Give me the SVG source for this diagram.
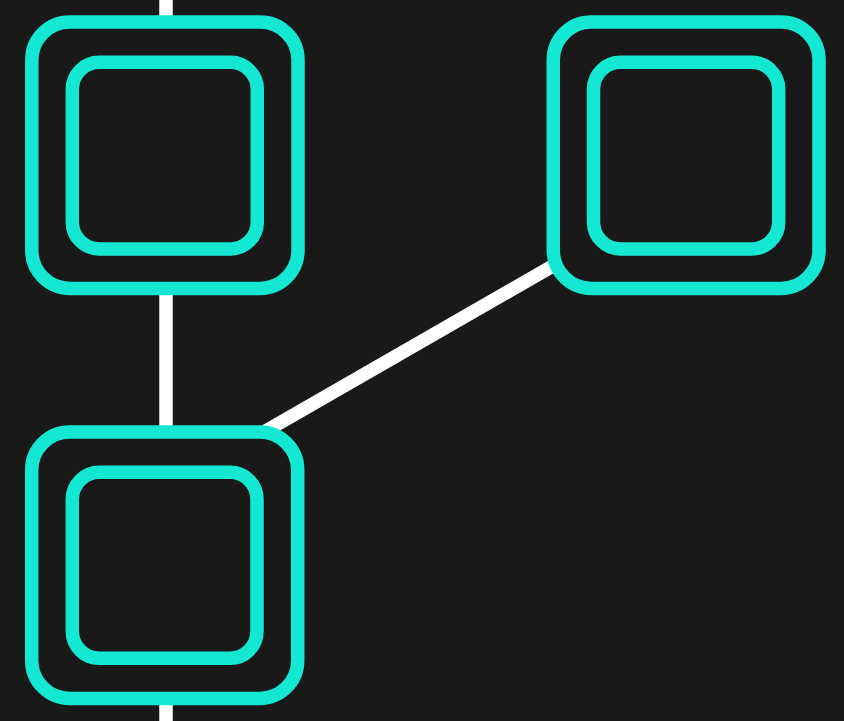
<svg xmlns="http://www.w3.org/2000/svg" width="844" height="721" viewBox="0 0 844 721">
  <style>
    .conn { stroke: #ffffff; stroke-width: 13.5; fill: none; }
    .outer { fill: #191919; stroke: #15E8D2; stroke-width: 13.5; }
    .inner { fill: #191919; stroke: #15E8D2; stroke-width: 13.5; }
  </style>
  <rect x="0" y="0" width="844" height="721" fill="#191919"/>
  <g id="connectors">
    <line class="conn" x1="166" y1="0" x2="166" y2="721"/>
    <line class="conn" x1="200" y1="468.8" x2="620" y2="227.3"/>
  </g>
  <g id="node-top-left">
    <rect class="outer" x="31.8" y="22" width="266.2" height="266.4" rx="38" ry="38"/>
    <rect class="inner" x="72.3" y="62.3" width="185" height="186.7" rx="27" ry="27"/>
  </g>
  <g id="node-top-right">
    <rect class="outer" x="553.3" y="22" width="265.7" height="266.4" rx="38" ry="38"/>
    <rect class="inner" x="593.5" y="62.3" width="185.2" height="186.7" rx="27" ry="27"/>
  </g>
  <g id="node-bottom-left">
    <rect class="outer" x="31.7" y="432" width="266" height="266.4" rx="38" ry="38"/>
    <rect class="inner" x="72.3" y="472.3" width="184.7" height="186" rx="27" ry="27"/>
  </g>
</svg>
